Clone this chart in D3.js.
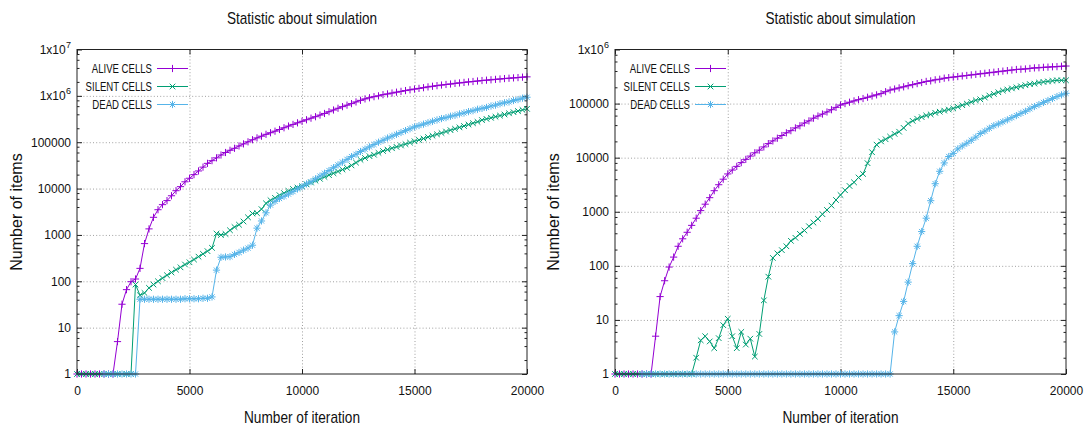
<!DOCTYPE html>
<html>
<head>
<meta charset="utf-8">
<script src="https://cdn.jsdelivr.net/npm/d3@7"></script>
<style>
    body { margin: 0; background: #fff; }
    svg text { font-family: "Liberation Sans", Arial, sans-serif; fill: #111; }
</style>
</head>
<body>
<svg id="chart" width="1088" height="429"></svg>
<script>
// sample grid of the simulation output (one record every 200 iterations)
const iterations = d3.range(0, 20001, 200);

const xTickValues = [0, 5000, 10000, 15000, 20000];
const yTickValues = [1, 10, 100, 1000, 10000, 100000, 1e6, 1e7];
const legendNames = ["ALIVE CELLS", "SILENT CELLS", "DEAD CELLS"];
const chartTitle = "Statistic about simulation";
const xTitle = "Number of iteration";
const yTitle = "Number of items";

// left run
const aliveA = [1, 1, 1, 1, 1, 1, 1, 1, 1, 5,
    32, 66, 98, 112, 190, 650, 1350, 2400, 3500, 4500,
    5500, 7000, 9000, 11000, 14000, 16700, 20000, 24000, 29000, 35000,
    40000, 46000, 53000, 60000, 67000, 74000, 83000, 92000, 102000, 113000,
    124000, 135000, 148000, 160000, 173000, 188000, 205000, 223000, 242000, 262000,
    283000, 305000, 330000, 355000, 385000, 417000, 455000, 495000, 540000, 585000,
    630000, 680000, 740000, 800000, 860000, 910000, 960000, 1.0e6, 1.06e6, 1.1e6,
    1.15e6, 1.2e6, 1.25e6, 1.3e6, 1.35e6, 1.4e6, 1.45e6, 1.5e6, 1.56e6, 1.61e6,
    1.66e6, 1.71e6, 1.76e6, 1.8e6, 1.86e6, 1.9e6, 1.95e6, 2.0e6, 2.04e6, 2.09e6,
    2.14e6, 2.18e6, 2.22e6, 2.27e6, 2.31e6, 2.36e6, 2.4e6, 2.44e6, 2.48e6, 2.53e6,
    2.57e6];

const silentA = [1, 1, 1, 1, 1, 1, 1, 1, 1, 1,
    1, 1, 1, 85, 50, 56, 72, 85, 100, 117,
    135, 155, 178, 200, 230, 257, 295, 340, 390, 447,
    525, 1070, 1000, 1050, 1260, 1480, 1660, 1950, 2400, 2900,
    2950, 3600, 4800, 5600, 6300, 7200, 8000, 8900, 9800, 10500,
    11200, 12300, 13500, 14800, 16200, 17800, 19500, 21400, 23400, 25700,
    28000, 31600, 36300, 41700, 45700, 50000, 53700, 58900, 64600, 69200,
    74100, 79400, 85000, 91000, 98000, 105000, 112000, 120000, 129000, 138000,
    148000, 158000, 170000, 182000, 195000, 209000, 224000, 240000, 257000, 275000,
    300000, 318000, 336000, 355000, 375000, 396000, 420000, 445000, 470000, 497000,
    525000];

const deadA = [null, null, null, null, null, null, 1, 1, 1, 1,
    1, 1, 1, 1, 41, 41, 41, 41, 41, 41,
    41, 41, 41, 41, 42, 42, 42, 42, 43, 43,
    46, 174, 330, 335, 340, 380, 420, 470, 520, 600,
    1400, 2000, 3000, 4400, 5300, 6100, 6800, 7600, 8600, 9800,
    11000, 12600, 14100, 16200, 18600, 21400, 24500, 28200, 32400, 37200,
    42700, 49000, 55000, 63100, 70800, 79400, 89100, 100000, 110000, 123000,
    135000, 148000, 162000, 178000, 195000, 214000, 229000, 245000, 263000, 282000,
    302000, 324000, 339000, 363000, 380000, 407000, 427000, 457000, 479000, 513000,
    537000, 562000, 603000, 631000, 676000, 708000, 741000, 794000, 832000, 891000,
    933000];

// right run
const aliveB = [1, 1, 1, 1, 1, 1, 1, 1, 1, 5,
    27, 53, 95, 145, 230, 316, 417, 560, 760, 1050,
    1380, 1820, 2450, 3160, 4000, 5000, 5900, 6900, 8100, 9300,
    10700, 12300, 13800, 15800, 18200, 20400, 22900, 25700, 28800, 31600,
    35500, 38900, 43700, 47900, 53700, 58900, 64000, 70000, 77000, 85000,
    94000, 100000, 106000, 112000, 118000, 124000, 131000, 138000, 145000, 153000,
    166000, 178000, 186000, 195000, 204000, 214000, 224000, 234000, 245000, 257000,
    263000, 275000, 282000, 295000, 302000, 309000, 316000, 324000, 331000, 339000,
    347000, 355000, 363000, 372000, 380000, 389000, 398000, 407000, 417000, 427000,
    432000, 437000, 447000, 457000, 460000, 468000, 472000, 479000, 482000, 490000,
    495000];

const silentB = [1, 1, 1, 1, 1, 1, 1, 1, 1, 1,
    1, 1, 1, 1, 1, 1, 1, 1, 2, 4.2,
    5, 4, 3, 4.6, 8, 10.5, 5, 3, 6, 3.5,
    4.5, 2.1, 5.5, 23, 63, 140, 170, 195, 230, 290,
    330, 390, 450, 540, 630, 740, 900, 1080, 1300, 1650,
    2040, 2500, 3000, 3500, 4300, 5000, 7900, 12600, 17400, 20000,
    21900, 24500, 27500, 30200, 35500, 42700, 47900, 52500, 56200, 60300,
    63100, 67600, 70800, 74100, 77600, 81300, 87100, 93300, 100000, 107000,
    115000, 120000, 129000, 141000, 151000, 162000, 174000, 182000, 191000, 200000,
    209000, 219000, 229000, 234000, 245000, 251000, 257000, 263000, 269000, 269000,
    270000];

const deadB = [null, null, null, null, null, null, 1, 1, 1, 1,
    1, 1, 1, 1, 1, 1, 1, 1, 1, 1,
    1, 1, 1, 1, 1, 1, 1, 1, 1, 1,
    1, 1, 1, 1, 1, 1, 1, 1, 1, 1,
    1, 1, 1, 1, 1, 1, 1, 1, 1, 1,
    1, 1, 1, 1, 1, 1, 1, 1, 1, 1,
    1, 1, 6, 12, 22, 50, 110, 230, 430, 760,
    1600, 3300, 5600, 8000, 10500, 12000, 14500, 16500, 18500, 21000,
    24000, 28000, 31000, 35000, 39000, 42000, 46000, 50000, 55000, 60000,
    66000, 72000, 80000, 88000, 96000, 105000, 114000, 124000, 135000, 145000,
    155000];

const colors = ["#9400d3", "#009e73", "#56b4e9"];
const markers = ["plus", "cross", "star"];

const plotTop = 49.5, plotBottom = 374;

const panels = [
    {series: [aliveA, silentA, deadA], yMax: 1e7, x0: 77, x1: 527, ylabX: 16},
    {series: [aliveB, silentB, deadB], yMax: 1e6, x0: 615, x1: 1066, ylabX: 553}
];

const svg = d3.select("#chart");

// the original picture is squeezed horizontally, so shrink each text's advance
function squeeze(sel, f) {
    sel.each(function () {
        let len = this.getComputedTextLength();
        d3.select(this)
            .attr("textLength", len * f)
            .attr("lengthAdjust", "spacingAndGlyphs");
    });
}

function markerPath(type) {
    let plus = (s) => `M${-s},0H${s}M0,${-s}V${s}`;
    let cross = (s) => `M${-s},${-s}L${s},${s}M${-s},${s}L${s},${-s}`;
    if (type === "plus") return plus(3.6);
    if (type === "cross") return cross(2.8);
    return plus(3.6) + cross(2.6);
}

function drawPanel(p) {
    let x = d3.scaleLinear().domain([0, 20000]).range([p.x0, p.x1]);
    let y = d3.scaleLog().domain([1, p.yMax]).range([plotBottom, plotTop]);
    let w = p.x1 - p.x0, h = plotBottom - plotTop;
    let cx = (p.x0 + p.x1) / 2;

    let majors = yTickValues.filter(v => v <= p.yMax);
    let minors = [];
    majors.slice(0, -1).forEach(d => [2, 4, 6, 8].forEach(m => minors.push(d * m)));

    let g = svg.append("g");

    // dotted grid
    let gridStyle = (a) => {
        a.select(".domain").remove();
        a.selectAll(".tick line")
            .attr("stroke", "#a0a0a0")
            .attr("stroke-width", 1)
            .attr("stroke-dasharray", "1,2.2");
    };
    g.append("g")
        .attr("transform", `translate(0,${plotBottom})`)
        .call(d3.axisBottom(x).tickValues(xTickValues.slice(1, -1)).tickSize(-h).tickFormat(""))
        .call(gridStyle);
    g.append("g")
        .attr("transform", `translate(${p.x0},0)`)
        .call(d3.axisLeft(y).tickValues(majors.slice(1, -1)).tickSize(-w).tickFormat(""))
        .call(gridStyle);

    // tick marks (mirrored on all sides)
    let tickStyle = (a) => {
        a.select(".domain").remove();
        a.selectAll(".tick line").attr("stroke", "#222");
        a.attr("font-size", 12).attr("font-family", null);
    };
    let yAxis = g.append("g")
        .attr("transform", `translate(${p.x0},0)`)
        .call(d3.axisLeft(y).tickValues(majors).tickSize(-5).tickPadding(6)
            .tickFormat(d => d < 1e6 ? String(d) : "1x10"))
        .call(tickStyle);
    // powers of ten: exponent as its own small text, base shifted left
    yAxis.selectAll(".tick").filter(d => d >= 1e6).each(function (d) {
        let tk = d3.select(this);
        let exp = tk.append("text")
            .attr("x", -6).attr("dy", "-0.25em")
            .attr("text-anchor", "end")
            .attr("font-size", 9)
            .text(Math.round(Math.log10(d)));
        let ew = exp.node().getComputedTextLength();
        tk.select("text").attr("x", -6 - ew - 0.3);
    });

    g.append("g")
        .attr("transform", `translate(${p.x0},0)`)
        .call(d3.axisLeft(y).tickValues(minors).tickSize(-2.5).tickFormat(""))
        .call(tickStyle);
    g.append("g")
        .attr("transform", `translate(${p.x1},0)`)
        .call(d3.axisRight(y).tickValues(majors).tickSize(-5).tickFormat(""))
        .call(tickStyle);
    g.append("g")
        .attr("transform", `translate(${p.x1},0)`)
        .call(d3.axisRight(y).tickValues(minors).tickSize(-2.5).tickFormat(""))
        .call(tickStyle);
    g.append("g")
        .attr("transform", `translate(0,${plotBottom})`)
        .call(d3.axisBottom(x).tickValues(xTickValues).tickSize(-5).tickPadding(12)
            .tickFormat(d3.format("d")))
        .call(tickStyle);
    g.append("g")
        .attr("transform", `translate(0,${plotTop})`)
        .call(d3.axisTop(x).tickValues(xTickValues).tickSize(-5).tickFormat(""))
        .call(tickStyle);

    // series: line, then markers
    p.series.forEach((arr, k) => {
        let pts = iterations.map((it, i) => ({it: it, v: arr[i]}));
        let line = d3.line()
            .defined(d => d.v != null)
            .x(d => x(d.it))
            .y(d => y(d.v));
        g.append("path")
            .datum(pts)
            .attr("d", line)
            .attr("fill", "none")
            .attr("stroke", colors[k])
            .attr("stroke-width", 1);
        g.append("g")
            .selectAll("path")
            .data(pts.filter(d => d.v != null))
            .join("path")
            .attr("transform", d => `translate(${x(d.it)},${y(d.v)})`)
            .attr("d", markerPath(markers[k]))
            .attr("fill", "none")
            .attr("stroke", colors[k])
            .attr("stroke-width", 1);
    });

    // border
    g.append("rect")
        .attr("x", p.x0).attr("y", plotTop)
        .attr("width", w).attr("height", h)
        .attr("fill", "none")
        .attr("stroke", "#222")
        .attr("stroke-width", 1);

    // legend
    legendNames.forEach((name, k) => {
        let ly = plotTop + 19 + 18 * k;
        let lt = g.append("text")
            .attr("x", p.x0 + 75).attr("y", ly)
            .attr("dy", "0.35em")
            .attr("text-anchor", "end")
            .attr("font-size", 13.5)
            .text(name);
        squeeze(lt, 0.71);
        g.append("line")
            .attr("x1", p.x0 + 80).attr("x2", p.x0 + 111)
            .attr("y1", ly).attr("y2", ly)
            .attr("stroke", colors[k]);
        g.append("path")
            .attr("transform", `translate(${p.x0 + 95.5},${ly})`)
            .attr("d", markerPath(markers[k]))
            .attr("fill", "none")
            .attr("stroke", colors[k]);
    });

    // titles
    g.append("text")
        .attr("x", cx).attr("y", 24)
        .attr("text-anchor", "middle")
        .attr("font-size", 17)
        .attr("textLength", 150)
        .attr("lengthAdjust", "spacingAndGlyphs")
        .text(chartTitle);
    g.append("text")
        .attr("x", cx).attr("y", 423)
        .attr("text-anchor", "middle")
        .attr("font-size", 17)
        .attr("textLength", 116)
        .attr("lengthAdjust", "spacingAndGlyphs")
        .text(xTitle);
    g.append("text")
        .attr("transform", `translate(${p.ylabX},212) rotate(-90)`)
        .attr("text-anchor", "middle")
        .attr("dy", "0.35em")
        .attr("font-size", 16)
        .text(yTitle);
}

panels.forEach(drawPanel);
</script>
</body>
</html>
